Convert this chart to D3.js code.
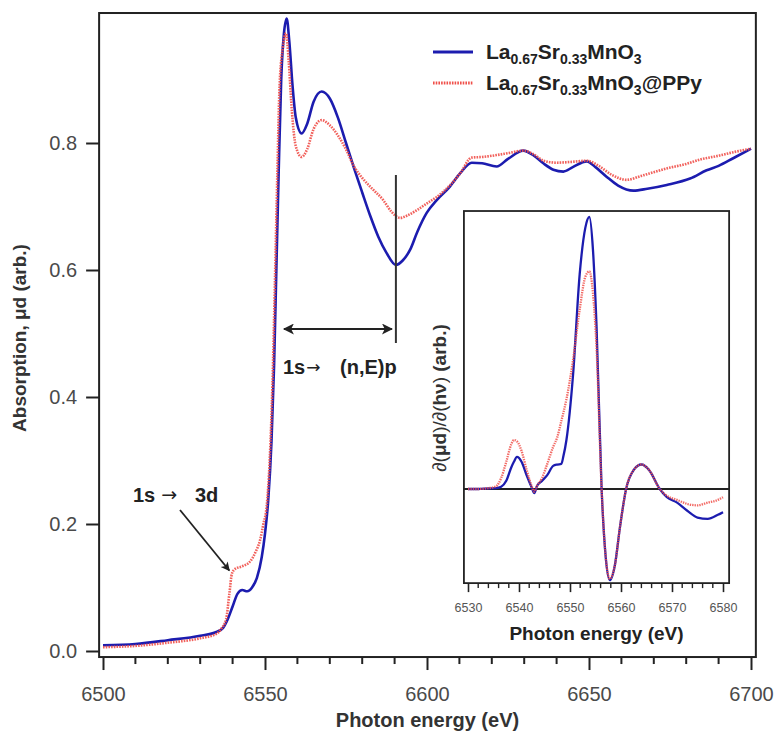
<!DOCTYPE html>
<html>
<head>
<meta charset="utf-8">
<script src="https://cdn.jsdelivr.net/npm/d3@7"></script>
<style>
  html, body { margin: 0; padding: 0; background: #fff; }
  svg { display: block; font-family: "Liberation Sans", Arial, sans-serif; }
</style>
</head>
<body>
<svg id="chart" width="777" height="733"></svg>
<script>
// Mn K-edge XANES, main panel: photon energy (eV) and absorption for both samples
const energyMain = [6500, 6510, 6520, 6530, 6535, 6537, 6538.5, 6540, 6541.5, 6543, 6544.5, 6546, 6547.5, 6549, 6550, 6551, 6552, 6552.8, 6553.5, 6554.2, 6555, 6555.8, 6556.7, 6557.5, 6558.5, 6559.5, 6561.3, 6563, 6565, 6567.5, 6570, 6572.5, 6575, 6577.5, 6580, 6582.5, 6585, 6587.5, 6590.4, 6592.5, 6594.8, 6597, 6599.9, 6603, 6607, 6610.2, 6613.8, 6617, 6621.5, 6625, 6629.7, 6633, 6635.9, 6639, 6642.1, 6645, 6649.3, 6652, 6655.4, 6659, 6663.7, 6668, 6674, 6681.2, 6686.3, 6690, 6694.5, 6700];
const absLSMO = [0.009, 0.011, 0.017, 0.024, 0.030, 0.036, 0.050, 0.070, 0.090, 0.096, 0.094, 0.100, 0.115, 0.148, 0.185, 0.238, 0.330, 0.450, 0.600, 0.750, 0.900, 0.970, 0.996, 0.960, 0.890, 0.840, 0.815, 0.830, 0.865, 0.881, 0.870, 0.840, 0.800, 0.760, 0.722, 0.685, 0.652, 0.627, 0.608, 0.615, 0.632, 0.660, 0.690, 0.710, 0.731, 0.752, 0.769, 0.768, 0.763, 0.775, 0.788, 0.780, 0.768, 0.758, 0.755, 0.762, 0.771, 0.762, 0.747, 0.733, 0.725, 0.728, 0.734, 0.744, 0.757, 0.764, 0.776, 0.791];

const energyPPy = [6500, 6510, 6520, 6530, 6535, 6536.5, 6538, 6539, 6539.8, 6541, 6542.8, 6545.4, 6547, 6548.5, 6549.5, 6550.5, 6551.5, 6552.3, 6553.1, 6553.8, 6554.5, 6555.5, 6556.5, 6557.3, 6558.3, 6559.5, 6561.3, 6563, 6565, 6567.5, 6570, 6572.5, 6575, 6577.5, 6580, 6582.5, 6586.5, 6589, 6591.7, 6594, 6596.8, 6600, 6603, 6607, 6610.2, 6613.8, 6617, 6621.5, 6625, 6629.7, 6633, 6636, 6640, 6644, 6649.3, 6653, 6657, 6661.6, 6666, 6670, 6674, 6680, 6684.3, 6690, 6695, 6700];
const absPPy = [0.006, 0.008, 0.013, 0.020, 0.027, 0.035, 0.050, 0.090, 0.122, 0.130, 0.133, 0.141, 0.155, 0.175, 0.200, 0.227, 0.306, 0.420, 0.590, 0.750, 0.890, 0.950, 0.973, 0.930, 0.850, 0.795, 0.778, 0.790, 0.822, 0.836, 0.828, 0.812, 0.790, 0.763, 0.745, 0.731, 0.710, 0.692, 0.682, 0.686, 0.694, 0.705, 0.715, 0.733, 0.752, 0.777, 0.778, 0.781, 0.784, 0.788, 0.782, 0.772, 0.769, 0.770, 0.772, 0.764, 0.750, 0.742, 0.748, 0.754, 0.760, 0.767, 0.774, 0.780, 0.786, 0.791];

// First derivative (inset)
const energyDeriv = [6530, 6532, 6534, 6535.5, 6536.5, 6537.5, 6538.5, 6539, 6539.6, 6540.5, 6541.5, 6542.5, 6543, 6543.5, 6544.5, 6545.5, 6546.7, 6547.5, 6548.3, 6548.7, 6549.3, 6550.6, 6551.9, 6553, 6553.8, 6554.5, 6555.2, 6556.2, 6557, 6557.8, 6558.8, 6559.8, 6561, 6562.5, 6564, 6565.5, 6567.6, 6569, 6571, 6573, 6575, 6577, 6579, 6580];
const derivLSMO = [0, 0, 0.002, 0.003, 0.008, 0.030, 0.080, 0.100, 0.118, 0.100, 0.050, 0.005, -0.015, 0.010, 0.030, 0.050, 0.085, 0.090, 0.092, 0.120, 0.180, 0.420, 0.790, 0.960, 1.000, 0.880, 0.600, 0, -0.250, -0.335, -0.280, -0.140, 0, 0.070, 0.090, 0.070, 0, -0.030, -0.050, -0.080, -0.105, -0.110, -0.095, -0.085];
const derivPPy = [0, 0, 0.003, 0.010, 0.040, 0.100, 0.165, 0.180, 0.175, 0.140, 0.070, 0.010, -0.010, 0.010, 0.040, 0.090, 0.155, 0.190, 0.250, 0.280, 0.330, 0.475, 0.660, 0.780, 0.800, 0.720, 0.520, 0, -0.250, -0.330, -0.280, -0.140, 0, 0.070, 0.090, 0.070, 0, -0.025, -0.040, -0.055, -0.060, -0.050, -0.040, -0.030];

// Tick values
const mainXTicks = [6500, 6550, 6600, 6650, 6700];
const mainYTicks = [0.0, 0.2, 0.4, 0.6, 0.8];
const insetXTicks = [6530, 6540, 6550, 6560, 6570, 6580];

const BLUE = "#1c1caf";
const RED = "#f0504a";
const INK = "#222";
const GREY = "#4a4a4a";
const ARROW_FONT = "DejaVu Sans, sans-serif";

const svg = d3.select("#chart");

// ---------- main panel ----------
const x = d3.scaleLinear().domain([6500, 6700]).range([103, 751]);
const y = d3.scaleLinear().domain([0, 0.8]).range([651, 143]);
const frame = { x0: x(6498.8), x1: x(6701.5), y0: y(1.0047), y1: y(-0.0095) };

const line = d3.line().curve(d3.curveMonotoneX);
const ptsMainBlue = energyMain.map((e, i) => [x(e), y(absLSMO[i])]);
const ptsMainRed = energyPPy.map((e, i) => [x(e), y(absPPy[i])]);

svg.append("path").attr("d", line(ptsMainBlue))
  .attr("fill", "none").attr("stroke", BLUE).attr("stroke-width", 2.6);
svg.append("path").attr("d", line(ptsMainRed))
  .attr("fill", "none").attr("stroke", RED).attr("stroke-width", 2.6)
  .attr("stroke-dasharray", "1.6,1.1").attr("opacity", 0.9);

// frame
svg.append("rect")
  .attr("x", frame.x0).attr("y", frame.y0)
  .attr("width", frame.x1 - frame.x0).attr("height", frame.y1 - frame.y0)
  .attr("fill", "none").attr("stroke", INK).attr("stroke-width", 2);

// x axis
const xAxis = svg.append("g").attr("transform", `translate(0,${frame.y1})`)
  .call(d3.axisBottom(x).tickValues(mainXTicks).tickFormat(d3.format("d")).tickSize(13).tickPadding(17));
xAxis.select(".domain").remove();
xAxis.selectAll(".tick line").attr("stroke", INK).attr("stroke-width", 2);
xAxis.selectAll(".tick text").attr("fill", GREY).attr("font-size", 20);
const minorX = d3.range(6510, 6700, 10).filter(v => v % 50 !== 0);
svg.append("g").selectAll("line").data(minorX).join("line")
  .attr("x1", d => x(d)).attr("x2", d => x(d))
  .attr("y1", frame.y1).attr("y2", frame.y1 + 7)
  .attr("stroke", INK).attr("stroke-width", 2);

// y axis
const yAxis = svg.append("g").attr("transform", `translate(${frame.x0},0)`)
  .call(d3.axisLeft(y).tickValues(mainYTicks).tickFormat(d3.format(".1f")).tickSize(13).tickPadding(9));
yAxis.select(".domain").remove();
yAxis.selectAll(".tick line").attr("stroke", INK).attr("stroke-width", 2);
yAxis.selectAll(".tick text").attr("fill", GREY).attr("font-size", 20);

svg.append("text")
  .attr("transform", `translate(19,338) rotate(-90)`)
  .attr("text-anchor", "middle").attr("dominant-baseline", "central")
  .attr("font-size", 19).attr("font-weight", "bold").attr("fill", "#333")
  .text("Absorption, μd (arb.)");

svg.append("text")
  .attr("x", (frame.x0 + frame.x1) / 2).attr("y", 727)
  .attr("text-anchor", "middle")
  .attr("font-size", 20).attr("font-weight", "bold").attr("fill", "#333")
  .text("Photon energy (eV)");

// legend
const legend = svg.append("g");
const legendItems = [
  { color: BLUE, dash: null, suffix: "" , ly: 52 },
  { color: RED, dash: "1.6,1.1", suffix: "@PPy", ly: 83 }
];
legendItems.forEach(it => {
  legend.append("line")
    .attr("x1", 433).attr("x2", 473).attr("y1", it.ly).attr("y2", it.ly)
    .attr("stroke", it.color).attr("stroke-width", 2.8)
    .attr("stroke-dasharray", it.dash);
  const t = legend.append("text").attr("x", 486).attr("y", it.ly + 7)
    .attr("font-size", 21).attr("font-weight", "bold").attr("fill", "#222");
  t.append("tspan").text("La");
  t.append("tspan").attr("dy", 5).attr("font-size", 14).text("0.67");
  t.append("tspan").attr("dy", -5).text("Sr");
  t.append("tspan").attr("dy", 5).attr("font-size", 14).text("0.33");
  t.append("tspan").attr("dy", -5).text("MnO");
  t.append("tspan").attr("dy", 5).attr("font-size", 14).text("3");
  if (it.suffix) t.append("tspan").attr("dy", -5).text(it.suffix);
});

// annotation: 1s -> (n,E)p
const eMin = 6590.4;
svg.append("line")
  .attr("x1", x(eMin)).attr("x2", x(eMin))
  .attr("y1", 175).attr("y2", 343)
  .attr("stroke", "#333").attr("stroke-width", 2);

const defs = svg.append("defs");
defs.append("marker").attr("id", "arrowHead")
  .attr("viewBox", "0 0 10 10").attr("refX", 9).attr("refY", 5)
  .attr("markerWidth", 7).attr("markerHeight", 5).attr("markerUnits", "strokeWidth")
  .attr("orient", "auto-start-reverse")
  .append("path").attr("d", "M0,0 L10,5 L0,10 L2.5,5 Z").attr("fill", "#222");

svg.append("line")
  .attr("x1", 284).attr("x2", x(eMin) - 4).attr("y1", 329).attr("y2", 329)
  .attr("stroke", "#222").attr("stroke-width", 2.2)
  .attr("marker-start", "url(#arrowHead)").attr("marker-end", "url(#arrowHead)");

const np = svg.append("text").attr("x", 283).attr("y", 374)
  .attr("font-size", 20).attr("font-weight", "bold").attr("fill", "#222");
np.append("tspan").text("1s");
np.append("tspan").attr("font-family", ARROW_FONT).attr("font-weight", "normal")
  .attr("font-size", 17).attr("dx", 1).attr("dy", -1).text("\u2192");
np.append("tspan").attr("x", 340).attr("dy", 1).text("(n,E)p");

// annotation: 1s -> 3d
const sd = svg.append("text").attr("x", 133).attr("y", 502)
  .attr("font-size", 20).attr("font-weight", "bold").attr("fill", "#222");
sd.append("tspan").text("1s");
sd.append("tspan").attr("font-family", ARROW_FONT).attr("font-weight", "normal")
  .attr("font-size", 19).attr("dx", 6).attr("dy", -1).text("\u2192");
sd.append("tspan").attr("x", 195).attr("dy", 1).text("3d");
svg.append("line")
  .attr("x1", 180).attr("y1", 510).attr("x2", x(6539.6) - 2).attr("y2", y(0.122) - 3)
  .attr("stroke", "#222").attr("stroke-width", 1.8)
  .attr("marker-end", "url(#arrowHead)");

// ---------- inset: derivative ----------
const xi = d3.scaleLinear().domain([6530, 6580]).range([468, 723]);
const yi = d3.scaleLinear().domain([0, 1]).range([489, 217]);
const iframe = { x0: xi(6529.2), x1: xi(6581.2), y0: yi(1.022), y1: yi(-0.346) };

svg.append("rect")
  .attr("x", iframe.x0).attr("y", iframe.y0)
  .attr("width", iframe.x1 - iframe.x0).attr("height", iframe.y1 - iframe.y0)
  .attr("fill", "#fff").attr("stroke", INK).attr("stroke-width", 1.8);

svg.append("line")
  .attr("x1", iframe.x0).attr("x2", iframe.x1)
  .attr("y1", yi(0)).attr("y2", yi(0))
  .attr("stroke", INK).attr("stroke-width", 1.8);

const ptsInsetBlue = energyDeriv.map((e, i) => [xi(e), yi(derivLSMO[i])]);
const ptsInsetRed = energyDeriv.map((e, i) => [xi(e), yi(derivPPy[i])]);
svg.append("path").attr("d", line(ptsInsetBlue))
  .attr("fill", "none").attr("stroke", BLUE).attr("stroke-width", 2.3);
svg.append("path").attr("d", line(ptsInsetRed))
  .attr("fill", "none").attr("stroke", RED).attr("stroke-width", 2.3)
  .attr("stroke-dasharray", "1.4,1").attr("opacity", 0.85);

const xiAxis = svg.append("g").attr("transform", `translate(0,${iframe.y1})`)
  .call(d3.axisBottom(xi).tickValues(insetXTicks).tickFormat(d3.format("d")).tickSize(9).tickPadding(11));
xiAxis.select(".domain").remove();
xiAxis.selectAll(".tick line").attr("stroke", INK).attr("stroke-width", 1.6);
xiAxis.selectAll(".tick text").attr("fill", "#555").attr("font-size", 12.5);
const minorXi = d3.range(6532, 6580, 2).filter(v => v % 10 !== 0);
svg.append("g").selectAll("line").data(minorXi).join("line")
  .attr("x1", d => xi(d)).attr("x2", d => xi(d))
  .attr("y1", iframe.y1).attr("y2", iframe.y1 + 5)
  .attr("stroke", INK).attr("stroke-width", 1.4);

svg.append("text")
  .attr("x", (iframe.x0 + iframe.x1) / 2).attr("y", 640)
  .attr("text-anchor", "middle")
  .attr("font-size", 19).attr("font-weight", "bold").attr("fill", "#222")
  .text("Photon energy (eV)");

const yiLabel = svg.append("text")
  .attr("transform", `translate(439,398) rotate(-90)`)
  .attr("text-anchor", "middle").attr("dominant-baseline", "central")
  .attr("font-size", 19).attr("fill", "#333");
yiLabel.append("tspan").text("\u2202(");
yiLabel.append("tspan").attr("font-weight", "bold").text("μd");
yiLabel.append("tspan").text(")/\u2202(");
yiLabel.append("tspan").attr("font-weight", "bold").text("hν");
yiLabel.append("tspan").text(") ");
yiLabel.append("tspan").attr("font-weight", "bold").text("(arb.)");
</script>
</body>
</html>
